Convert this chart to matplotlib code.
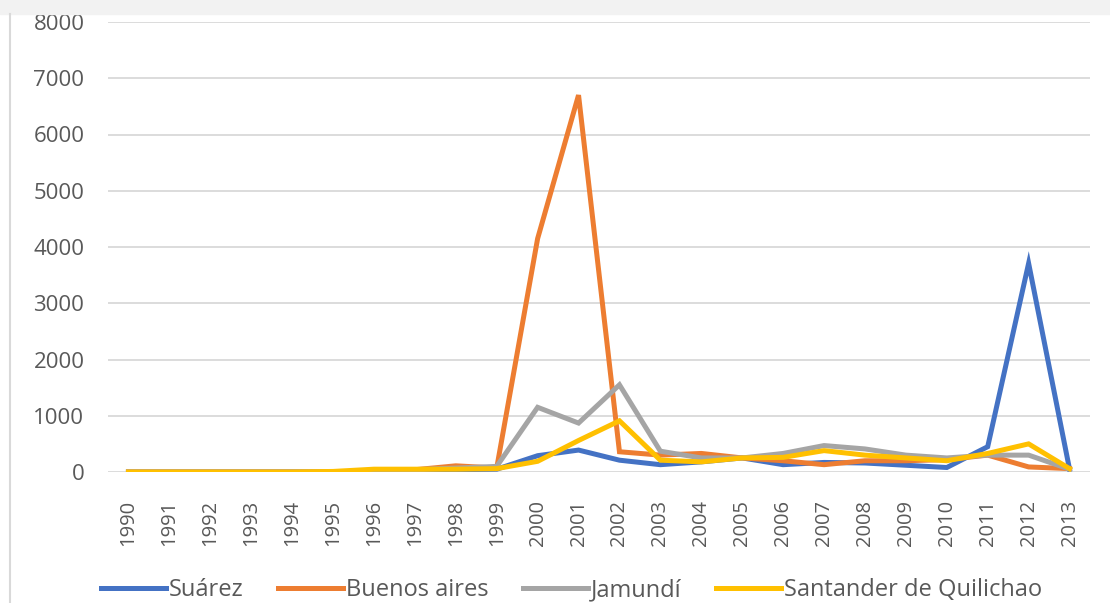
#!/usr/bin/env python3
"""Line chart: yearly values per municipality, Excel look."""
import matplotlib
matplotlib.use('Agg')
import matplotlib.pyplot as plt
from matplotlib.patches import Rectangle
from matplotlib.lines import Line2D

years = [str(y) for y in range(1990, 2014)]
suarez = [0, 0, 0, 0, 0, 0, 20, 30, 40, 50, 290, 390, 210, 130,
          180, 250, 130, 170, 160, 120, 80, 450, 3710, 50]
buenos_aires = [0, 0, 0, 0, 0, 0, 20, 40, 110, 70, 4150, 6700, 360, 300,
                330, 250, 200, 130, 200, 200, 220, 300, 90, 60]
jamundi = [0, 0, 0, 0, 0, 0, 20, 40, 70, 100, 1150, 870, 1550, 370,
           250, 250, 330, 470, 410, 300, 250, 300, 300, 50]
santander = [0, 0, 0, 0, 0, 10, 50, 50, 50, 60, 190, 560, 910, 210,
             180, 250, 260, 380, 300, 250, 200, 330, 500, 60]

series = [('Suárez', suarez, '#4472C4'),
          ('Buenos aires', buenos_aires, '#ED7D31'),
          ('Jamundí', jamundi, '#A5A5A5'),
          ('Santander de Quilichao', santander, '#FFC000')]

TXT = '#595959'
plt.rcParams['font.family'] = ['Open Sans', 'DejaVu Sans']

fig = plt.figure(figsize=(11.1, 6.03), dpi=100)
# grey frame strip at top and left
fig.patches.append(Rectangle((0, 1 - 14 / 603), 1, 14 / 603, transform=fig.transFigure,
                             color='#f2f2f2', zorder=0))
fig.add_artist(Line2D([10 / 1110, 10 / 1110], [0, 1 - 14 / 603], transform=fig.transFigure,
                      color='#d9d9d9', lw=1.5))

ax = fig.add_axes([108 / 1110, 1 - 472 / 603, (1090 - 108) / 1110, (472 - 22) / 603])
x = list(range(len(years)))
for name, vals, col in series:
    ax.plot(x, vals, color=col, lw=3.6, label=name, solid_joinstyle='miter', zorder=3)

ax.set_xlim(-0.5, len(years) - 0.5)
ax.set_ylim(0, 8000)
ax.set_yticks(range(0, 8001, 1000))
ax.set_xticks(x)
ax.set_xticklabels(years, rotation=90)
ax.grid(axis='y', color='#d9d9d9', lw=1.3, zorder=0)
for s in ax.spines.values():
    s.set_visible(False)
ax.tick_params(axis='y', length=0, pad=17, labelsize=16, labelcolor=TXT)
ax.tick_params(axis='x', length=0, pad=20, labelsize=14.5, labelcolor=TXT)

fig.legend(loc='center', bbox_to_anchor=(0.515, 1 - 590 / 603), ncol=4, frameon=False,
           fontsize=17, labelcolor=TXT, handlelength=2.75, handletextpad=0.13,
           columnspacing=1.45)

fig.savefig('out.png')
